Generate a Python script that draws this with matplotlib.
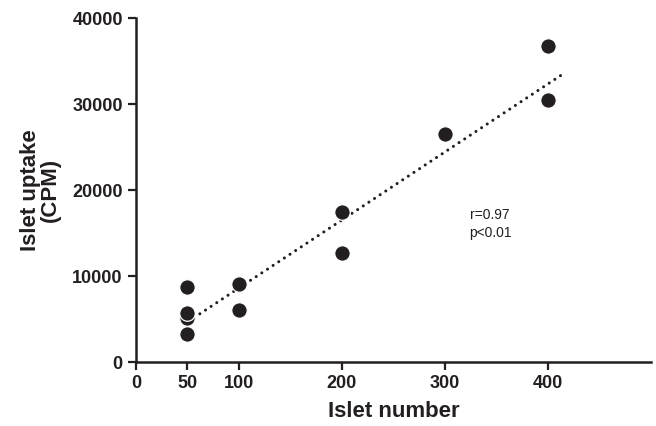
import matplotlib

matplotlib.use("Agg")
import matplotlib.pyplot as plt
import numpy as np

plt.rcParams["font.family"] = ["Liberation Sans", "DejaVu Sans"]

# islet number vs uptake (CPM)
islets = [50, 50, 50, 50, 100, 100, 200, 200, 300, 400, 400]
uptake = [8750, 3250, 5100, 5700, 9050, 6050, 17450, 12700, 26500, 36800, 30500]
x_ticks = [0, 50, 100, 200, 300, 400]
y_ticks = [0, 10000, 20000, 30000, 40000]

# linear fit as drawn in the reference (slope, intercept, x span)
fit_slope = 79.1
fit_intercept = 700
fit_range = [62, 415]
stats_text = "r=0.97\np<0.01"

INK = "#231f20"

fig = plt.figure(figsize=(6.56, 4.26), dpi=100)
ax = fig.add_axes((0.2073, 0.1502, 0.785, 0.8075))

xf = np.array(fit_range)
ax.plot(xf, fit_slope * xf + fit_intercept, color=INK, lw=2.2,
        linestyle=(0, (0.01, 2.2)), dash_capstyle="round", zorder=2)

ax.scatter(islets, uptake, s=125, color=INK, edgecolors="white",
           linewidths=0.9, zorder=3)

ax.text(344, 16050, stats_text, ha="center", va="center",
        fontsize=10, color=INK, linespacing=1.3)

ax.set_xlim(0, 500)
ax.set_ylim(0, 40000)
ax.set_xticks(x_ticks)
ax.set_yticks(y_ticks)
ax.tick_params(direction="out", length=6, width=1.6, colors=INK,
               labelsize=13)
for lab in ax.get_xticklabels() + ax.get_yticklabels():
    lab.set_fontweight("bold")
for side in ("top", "right"):
    ax.spines[side].set_visible(False)
for side in ("left", "bottom"):
    ax.spines[side].set_linewidth(1.8)
    ax.spines[side].set_color(INK)

ax.set_xlabel("Islet number", fontsize=16, fontweight="bold", color=INK,
              labelpad=6)
ax.set_ylabel("Islet uptake\n(CPM)", fontsize=16, fontweight="bold",
              color=INK, labelpad=8, linespacing=0.95)

fig.savefig("out.png", dpi=100, facecolor="white")
